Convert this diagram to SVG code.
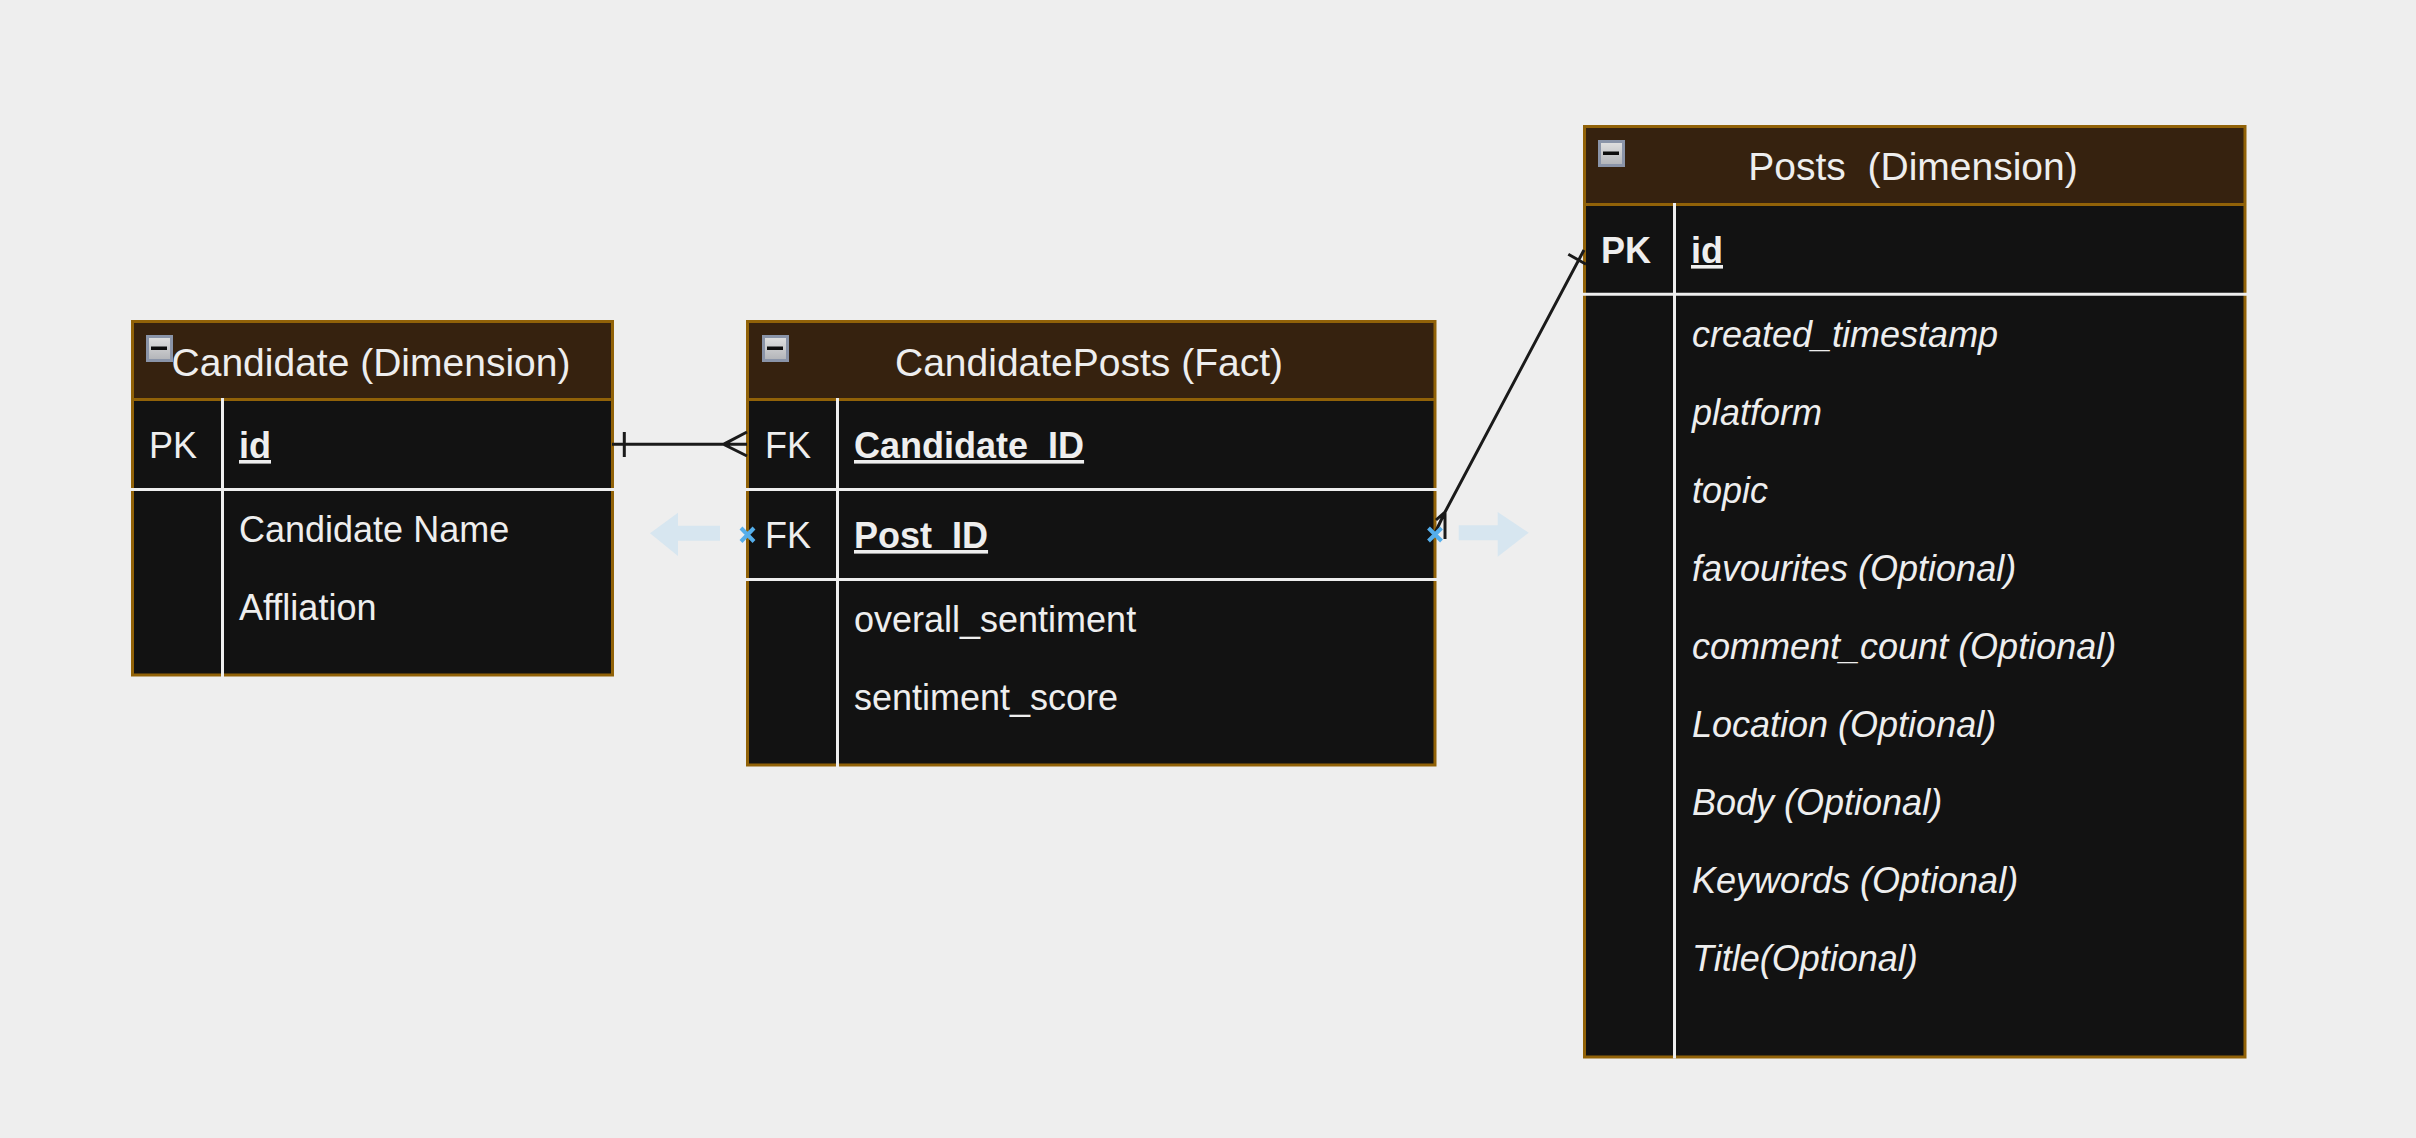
<svg xmlns="http://www.w3.org/2000/svg" width="2416" height="1138" viewBox="0 0 2416 1138">
<style>
text{font-family:"Liberation Sans",Arial,Helvetica,sans-serif;fill:#eeeeee}
.t{font-size:39px;text-anchor:middle;white-space:pre}
.f{font-size:36px}
.k{font-size:36px;text-anchor:middle}
.u{font-weight:bold;text-decoration:underline}
.b{font-weight:bold}
.i{font-style:italic}
.body{fill:#121212;stroke:none}
.head{fill:#36220f;stroke:none}
.frame{fill:none;stroke:#916208;stroke-width:3}
.w{stroke:#eeeeee;stroke-width:3;fill:none}
.c{stroke:#1a1a1a;stroke-width:3;fill:none}
.mark{stroke:#55aeea;stroke-width:4;fill:none}
.ar{fill:#d7e6f0;stroke:none}
.btnO{fill:#8a94a8}
.btnM{fill:#0c0c0c}
</style>
<defs>
<linearGradient id="g" x1="0" y1="0" x2="0" y2="1"><stop offset="0" stop-color="#dedede"/><stop offset="1" stop-color="#b4b6ba"/></linearGradient>
<g id="btn"><rect class="btnO" x="0" y="0" width="27" height="27"/><rect x="3" y="3" width="21" height="21" fill="url(#g)"/><rect class="btnM" x="5" y="11.500" width="16" height="3.500"/></g>
</defs>
<rect width="2416" height="1138" fill="#eeeeee"/>
<g id="candidate">
<rect class="body" x="133" y="322" width="479" height="353"/>
<rect class="head" x="133" y="322" width="479" height="78"/>
<path class="frame" d="M132.500 321.500H612.500V675H132.500ZM132.500 399.500H612.500"/>
<path class="w" d="M222.500 398V677M131 489.500H614"/>
<use href="#btn" x="146" y="335"/>
<text class="t" x="371" y="376">Candidate (Dimension)</text>
<text class="k" x="173" y="458">PK</text>
<text class="f u" x="239" y="458">id</text>
<text class="f" x="239" y="542">Candidate Name</text>
<text class="f" x="239" y="620">Affliation</text>
</g>
<g id="candidateposts">
<rect class="body" x="748" y="322" width="687" height="443"/>
<rect class="head" x="748" y="322" width="687" height="78"/>
<path class="frame" d="M747.500 321.500H1435V765H747.500ZM747.500 399.500H1435"/>
<path class="w" d="M837.500 398V767M746 489.500H1437M746 579.500H1437"/>
<use href="#btn" x="762" y="335"/>
<text class="t" x="1089" y="376">CandidatePosts (Fact)</text>
<text class="k" x="788" y="458">FK</text>
<text class="f u" x="854" y="458">Candidate_ID</text>
<text class="k" x="788" y="548">FK</text>
<text class="f u" x="854" y="548">Post_ID</text>
<text class="f" x="854" y="632">overall_sentiment</text>
<text class="f" x="854" y="710">sentiment_score</text>
</g>
<g id="posts">
<rect class="body" x="1585" y="127" width="660" height="930"/>
<rect class="head" x="1585" y="127" width="660" height="78"/>
<path class="frame" d="M1584.500 126.500H2245V1057H1584.500ZM1584.500 204.500H2245"/>
<path class="w" d="M1674.500 203V1058.500M1583 294.300H2247"/>
<use href="#btn" x="1598" y="140"/>
<text class="t" x="1913" y="180">Posts  (Dimension)</text>
<text class="k b" x="1626" y="263">PK</text>
<text class="f u" x="1691" y="263">id</text>
<text class="f i" x="1692" y="347">created_timestamp</text>
<text class="f i" x="1692" y="425">platform</text>
<text class="f i" x="1692" y="503">topic</text>
<text class="f i" x="1692" y="581">favourites (Optional)</text>
<text class="f i" x="1692" y="659">comment_count (Optional)</text>
<text class="f i" x="1692" y="737">Location (Optional)</text>
<text class="f i" x="1692" y="815">Body (Optional)</text>
<text class="f i" x="1692" y="893">Keywords (Optional)</text>
<text class="f i" x="1692" y="971">Title(Optional)</text>
</g>
<g id="connectors">
<path class="c" d="M612 444.300H747M624.300 432V457M747 432L723.500 444.300L747 456"/>
<path class="c" d="M1435 533L1444.500 513L1584 250M1568.300 254.300L1586 264.300M1445 539V512L1436 520"/>
<path class="mark" d="M741 528L754 541.500M754 528L741 541.500"/>
<path class="mark" d="M1428.500 528L1441.500 541M1441.500 528L1428.500 541"/>
<path class="ar" d="M650 533.300L678 512.700V525.700H720V540.700H678V556Z"/>
<path class="ar" d="M1528.700 532.700L1497.700 512V525.300H1458.700V540.300H1497.700V556.700Z"/>
</g>
</svg>
